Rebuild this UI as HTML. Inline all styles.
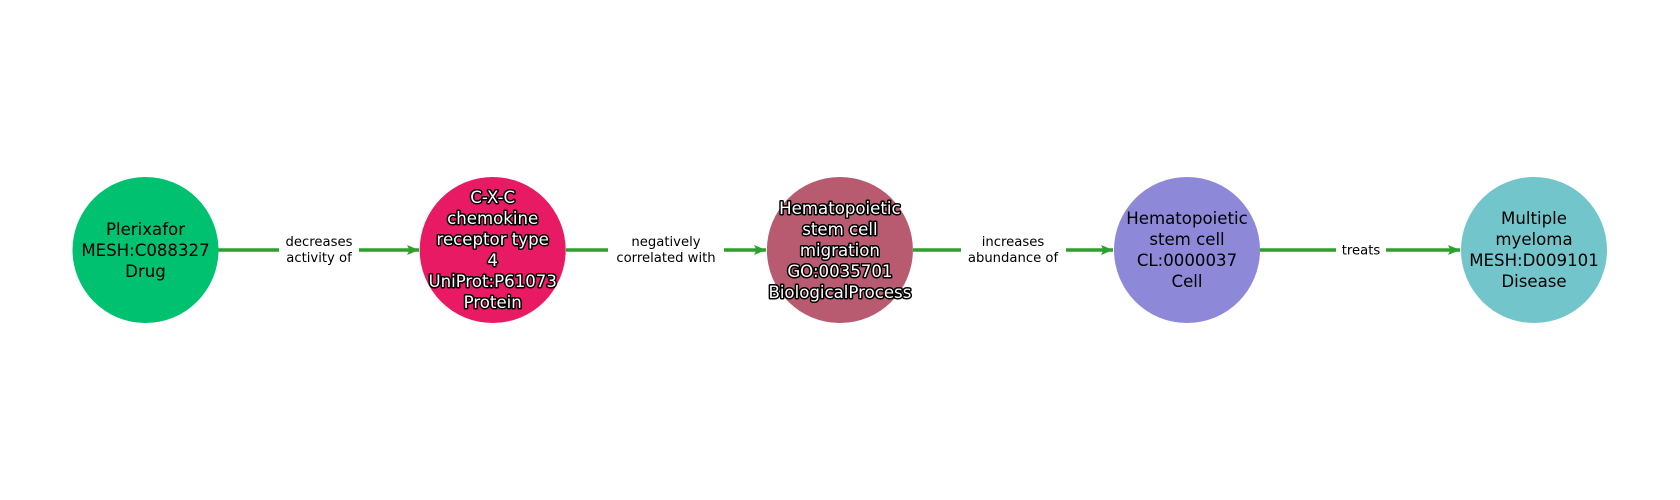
<!DOCTYPE html>
<html><head><meta charset="utf-8"><style>
html,body{margin:0;padding:0;background:#fff;}
svg{display:block;}
.n{font-family:"DejaVu Sans","Liberation Sans",sans-serif;font-size:16.6px;text-anchor:middle;}
.w{fill:#fff;stroke:#000;stroke-width:3px;paint-order:stroke;stroke-linejoin:round;}
.e{font-family:"DejaVu Sans","Liberation Sans",sans-serif;font-size:13.2px;text-anchor:middle;fill:#000;}
</style></head><body>
<svg width="1680" height="500" viewBox="0 0 1680 500" xmlns="http://www.w3.org/2000/svg">
<defs><marker id="a" markerWidth="12" markerHeight="12" refX="12" refY="6" orient="auto" markerUnits="userSpaceOnUse"><path d="M0,1 L12,6 L0,11 L2.5,6 Z" fill="#2ca02c"/></marker></defs>
<g stroke="#2ca02c" stroke-width="3.5" fill="none">
<line x1="218" y1="250" x2="279" y2="250"/><line x1="359" y1="250" x2="419" y2="250" marker-end="url(#a)"/>
<line x1="566" y1="250" x2="608" y2="250"/><line x1="724" y1="250" x2="766" y2="250" marker-end="url(#a)"/>
<line x1="913" y1="250" x2="961" y2="250"/><line x1="1066" y1="250" x2="1113" y2="250" marker-end="url(#a)"/>
<line x1="1260" y1="250" x2="1336" y2="250"/><line x1="1386" y1="250" x2="1460" y2="250" marker-end="url(#a)"/>
</g>
<text class="e" x="319" y="246">decreases</text><text class="e" x="319" y="262">activity of</text>
<text class="e" x="666" y="246">negatively</text><text class="e" x="666" y="262">correlated with</text>
<text class="e" x="1013" y="246">increases</text><text class="e" x="1013" y="262">abundance of</text>
<text class="e" x="1361" y="254.5">treats</text>
<circle cx="145.5" cy="250" r="73" fill="#00c170"/>
<circle cx="492.7" cy="250" r="73" fill="#e91a64"/>
<circle cx="839.9" cy="250" r="73" fill="#b85a70"/>
<circle cx="1187" cy="250" r="73" fill="#8e88d8"/>
<circle cx="1534" cy="250" r="73" fill="#72c5ca"/>
<g class="n">
<text x="145.5" y="235">Plerixafor</text><text x="145.5" y="256">MESH:C088327</text><text x="145.5" y="277">Drug</text>
</g>
<g class="n w">
<text x="492.7" y="203">C-X-C</text><text x="492.7" y="224">chemokine</text><text x="492.7" y="245">receptor type</text><text x="492.7" y="266">4</text><text x="492.7" y="287">UniProt:P61073</text><text x="492.7" y="308">Protein</text>
<text x="839.9" y="214">Hematopoietic</text><text x="839.9" y="235">stem cell</text><text x="839.9" y="256">migration</text><text x="839.9" y="277">GO:0035701</text><text x="839.9" y="298">BiologicalProcess</text>
</g>
<g class="n">
<text x="1187" y="224">Hematopoietic</text><text x="1187" y="245">stem cell</text><text x="1187" y="266">CL:0000037</text><text x="1187" y="287">Cell</text>
<text x="1534" y="224">Multiple</text><text x="1534" y="245">myeloma</text><text x="1534" y="266">MESH:D009101</text><text x="1534" y="287">Disease</text>
</g>
</svg>
</body></html>
